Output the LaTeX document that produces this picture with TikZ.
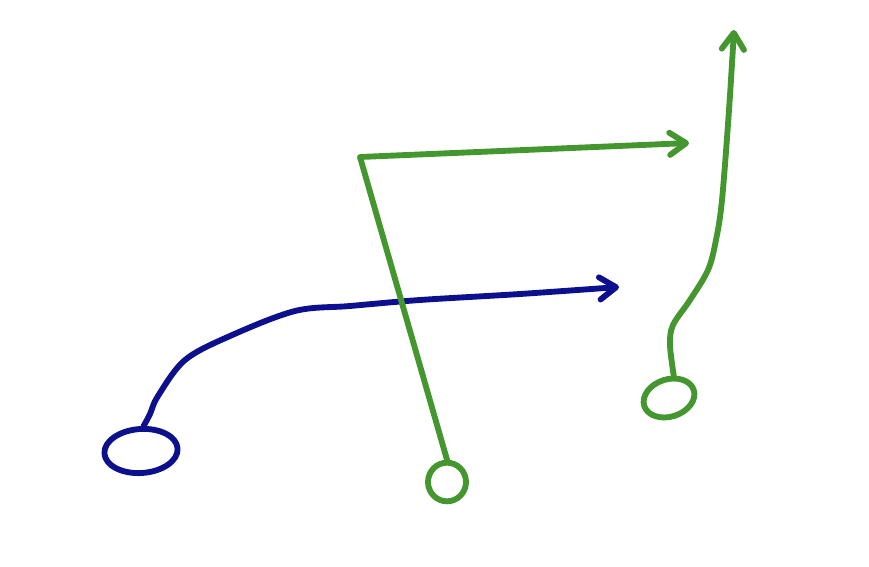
\documentclass[tikz,border=0pt]{standalone}
\usetikzlibrary{arrows.meta,shapes.geometric}
\definecolor{penblue}{RGB}{12,16,140}
\definecolor{pengreen}{RGB}{68,150,46}
\tikzset{
    pen/.style={line width=5pt, line cap=round, line join=round},
    bluepen/.style={pen, draw=penblue},
    greenpen/.style={pen, draw=pengreen},
    ring/.style={ellipse, inner sep=0pt},
    tip/.style={-{Straight Barb[length=14pt,width=19pt,round]}}
}
\begin{document}
\begin{tikzpicture}[x=0.03cm, y=-0.03cm]
\useasboundingbox (0,0) rectangle (869,567);

% start rings
\node[ring, bluepen, minimum width=2.2cm, minimum height=1.32cm, rotate=4] (bstart) at (141,451) {};
\node[ring, greenpen, minimum width=1.14cm, minimum height=1.16cm] (mstart) at (447,482) {};
\node[ring, greenpen, minimum width=1.56cm, minimum height=1.12cm, rotate=18] (rstart) at (669,398) {};

% end points
\coordinate (bend) at (619,287);
\coordinate (corner) at (360,157);
\coordinate (mend) at (689,143);
\coordinate (rend) at (734,30);

% blue path
\draw[bluepen, tip] plot[smooth, tension=0.55] coordinates {(bstart.80) (150,414) (158,396) (185,360) (230,336) (295,311) (350,306) (420,300) (520,294) (bend)};

% middle green path
\draw[greenpen, tip] (mstart.north) -- (corner) -- (mend);

% right green path
\draw[greenpen, tip] plot[smooth, tension=0.55] coordinates {(rstart.60) (670,345) (673,325) (690,300) (708,270) (716,240) (722,200) (729,110) (rend)};
\end{tikzpicture}
\end{document}
